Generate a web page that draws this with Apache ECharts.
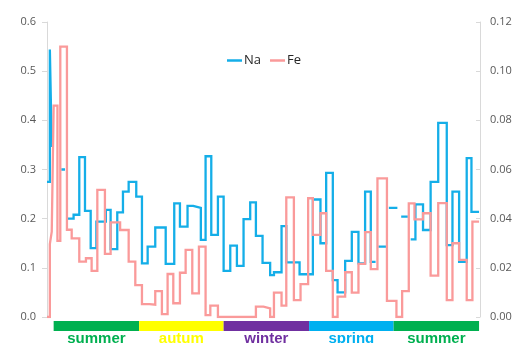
<!DOCTYPE html>
<html>
<head>
<meta charset="utf-8">
<script src="https://cdn.jsdelivr.net/npm/echarts@6/dist/echarts.min.js"></script>
<style>
  html, body { margin: 0; padding: 0; background: #ffffff; }
  #chart { width: 523px; height: 343px; }
</style>
</head>
<body>
<div id="chart"></div>
<script>
// Sampling days (day 0 = first sample) and the value held until the next sample.
// null marks a period with no Na measurement.
const naDays = [0, 3, 5, 6, 15, 19, 22, 28, 34, 40, 46, 52, 62, 67, 74, 80, 86, 94, 100, 106,
  114, 125, 134, 140, 148, 154, 162, 167, 173, 180, 186, 193, 200, 207, 214, 220, 227, 235, 239, 247,
  252, 266, 280, 288, 294, 301, 306, 314, 321, 328, 335, 341, 346, 349, 357, 360, 369, 373, 380, 383,
  388, 396, 404, 412, 421, 427, 434, 442, 447, 455];
const naValues = [0.275, 0.544, 0.348, null, 0.300, null, 0.200, 0.208, 0.325, 0.216,
  0.140, 0.194, 0.218, 0.138, 0.213, 0.255, 0.275, 0.245, 0.109, 0.143,
  0.182, 0.108, 0.231, 0.184, 0.226, 0.222, 0.157, 0.327, 0.167, 0.245,
  0.094, 0.145, 0.104, 0.199, 0.233, 0.165, 0.110, 0.085, 0.091, 0.185,
  0.111, 0.087, 0.239, 0.150, 0.293, 0.075, 0.050, 0.114, 0.173, 0.109,
  0.255, 0.112, null, 0.143, null, 0.222, null, 0.204, null, 0.158,
  0.229, 0.177, 0.275, 0.395, 0.146, 0.255, 0.112, 0.323, 0.214];

const feDays = [0, 3, 5, 7, 11, 14, 21, 26, 34, 41, 47, 53, 61, 67, 77, 86, 93, 100, 108, 114,
  121, 127, 133, 140, 146, 153, 160, 167, 172, 180, 220, 228, 235, 239, 247, 252, 260, 267, 275, 280,
  288, 294, 301, 306, 314, 321, 328, 335, 341, 348, 358, 368, 374, 381, 387, 396, 404, 412, 421, 427,
  434, 442, 448, 455];
const feValues = [0, 0.0297, 0.0347, 0.086, 0.031, 0.110, 0.0355, 0.032, 0.0225, 0.0239,
  0.0188, 0.0517, 0.0257, 0.0385, 0.0354, 0.0225, 0.013, 0.0052, 0.0050, 0.0105,
  0.0012, 0.0175, 0.0056, 0.018, 0.0273, 0.0096, 0.0286, 0.0008, 0.0046, 0,
  0.0042, 0.0035, 0, 0.0099, 0.0046, 0.0487, 0.0069, 0.0134, 0.0483, 0.0334,
  0.0422, 0.0188, 0, 0.0083, 0.0182, 0.0099, 0.0216, 0.0345, 0.0195, 0.0564,
  0.0066, 0, 0.0105, 0.0462, 0.0397, 0.0422, 0.0168, 0.0463, 0.0069, 0.030,
  0.0232, 0.0069, 0.0388];

// Seasons along the same day scale
const seasonNames = ['summer', 'autum', 'winter', 'spring', 'summer'];
const seasonEdges = [7, 97, 186, 276, 365, 455];

const naTicks = ['0.0', '0.1', '0.2', '0.3', '0.4', '0.5', '0.6'];
const feTicks = ['0.00', '0.02', '0.04', '0.06', '0.08', '0.10', '0.12'];

const seasonColors = ['#00b050', '#ffff00', '#7030a0', '#00b0f0', '#00b050'];
const DAY_MAX = 456;

// Each sample becomes a flat run from its day to the next day; null breaks the line.
function stepPoints(days, values) {
  const pts = [];
  values.forEach((v, i) => {
    if (v === null) {
      pts.push([days[i], '-']);
    } else {
      pts.push([days[i], v]);
      pts.push([days[i + 1], v]);
    }
  });
  return pts;
}

const labelFont = { fontFamily: 'Open Sans', fontSize: 11, color: '#595959' };

const seasonSeries = [{
  type: 'bar',
  xAxisIndex: 1,
  yAxisIndex: 2,
  stack: 'season',
  barWidth: '100%',
  silent: true,
  itemStyle: { color: 'transparent' },
  data: [seasonEdges[0]]
}].concat(seasonNames.map((name, i) => ({
  type: 'bar',
  name: name + '_' + i,
  xAxisIndex: 1,
  yAxisIndex: 2,
  stack: 'season',
  barWidth: '100%',
  itemStyle: { color: seasonColors[i] },
  label: {
    show: true,
    position: 'bottom',
    distance: 0,
    formatter: name,
    color: seasonColors[i],
    fontFamily: 'Liberation Sans',
    fontWeight: 'bold',
    fontSize: 15,
    lineHeight: 15
  },
  data: [seasonEdges[i + 1] - seasonEdges[i]]
})));

const chart = echarts.init(document.getElementById('chart'), null, { renderer: 'canvas' });
chart.setOption({
  animation: false,
  backgroundColor: '#ffffff',
  legend: {
    data: ['Na', 'Fe'],
    left: 222,
    top: 49,
    icon: 'rect',
    itemWidth: 15,
    itemHeight: 2.5,
    itemGap: 9,
    textStyle: { fontFamily: 'Open Sans', fontSize: 13, color: '#262626', padding: [0, 0, 0, -3] }
  },
  grid: [
    { left: 47, right: 43, top: 22, bottom: 26 },
    { left: 47, right: 43, top: 321, height: 10 }
  ],
  xAxis: [
    { type: 'value', gridIndex: 0, min: 0, max: DAY_MAX, show: false },
    { type: 'value', gridIndex: 1, min: 0, max: DAY_MAX, show: false }
  ],
  yAxis: [
    {
      type: 'value', gridIndex: 0, min: 0, max: 0.6, interval: 0.1, position: 'left',
      splitLine: { show: false },
      axisLine: { show: true, lineStyle: { color: '#d9d9d9', width: 1 } },
      axisTick: { show: true, length: 5, lineStyle: { color: '#d9d9d9' } },
      axisLabel: Object.assign({ margin: 11, formatter: (v) => naTicks[Math.round(v * 10)] }, labelFont)
    },
    {
      type: 'value', gridIndex: 0, min: 0, max: 0.12, interval: 0.02, position: 'right',
      splitLine: { show: false },
      axisLine: { show: true, lineStyle: { color: '#d9d9d9', width: 1 } },
      axisTick: { show: true, inside: true, length: 4, lineStyle: { color: '#d9d9d9' } },
      axisLabel: Object.assign({ margin: 10, formatter: (v) => feTicks[Math.round(v * 50)] }, labelFont)
    },
    { type: 'category', gridIndex: 1, data: ['season'], show: false }
  ],
  series: [
    {
      name: 'Na',
      type: 'line',
      xAxisIndex: 0,
      yAxisIndex: 0,
      symbol: 'none',
      showSymbol: false,
      lineStyle: { color: '#14aee8', width: 2.3, join: 'miter' },
      itemStyle: { color: '#14aee8' },
      data: stepPoints(naDays, naValues)
    },
    {
      name: 'Fe',
      type: 'line',
      xAxisIndex: 0,
      yAxisIndex: 1,
      symbol: 'none',
      showSymbol: false,
      lineStyle: { color: '#fa9a9a', width: 2.3, join: 'miter' },
      itemStyle: { color: '#fa9a9a' },
      data: stepPoints(feDays, feValues)
    }
  ].concat(seasonSeries)
});
</script>
</body>
</html>
